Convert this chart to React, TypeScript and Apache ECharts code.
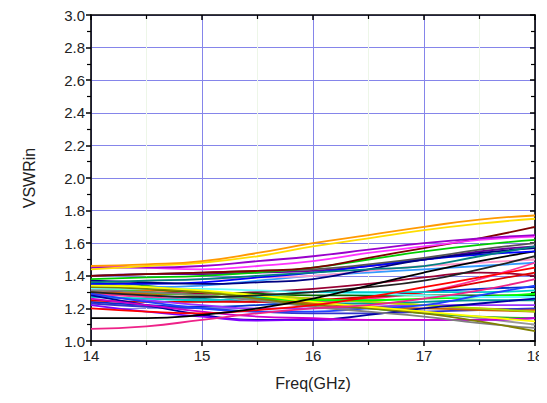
import React, { useEffect, useRef } from "react";
import * as echarts from "echarts";

const freqs = [14, 14.5, 15, 15.5, 16, 16.5, 17, 17.5, 18];
const yTicks = [1.0, 1.2, 1.4, 1.6, 1.8, 2.0, 2.2, 2.4, 2.6, 2.8, 3.0];

const colors = [
  "#999999", "#ff6600", "#009999", "#0033cc", "#660099", "#33aa33", "#990033", "#3399ff",
  "#ff3399", "#dd0000", "#006600", "#3333cc", "#9933ff", "#ff99cc", "#cc6600", "#aadd00",
  "#00ff00", "#66ffff", "#00cccc", "#1e40ff", "#0000a0", "#8000ff", "#cc00cc", "#808080",
  "#808000", "#ffff00", "#ee2288", "#ff0000", "#222222", "#000000", "#0000ff", "#000080",
  "#008080", "#555555", "#00cc00", "#800000", "#ff33ff", "#9900cc", "#ffdd00", "#ff9900",
];

const s01 = [1.33, 1.32, 1.30, 1.27, 1.24, 1.21, 1.18, 1.14, 1.10];
const s02 = [1.32, 1.31, 1.30, 1.28, 1.26, 1.24, 1.22, 1.20, 1.19];
const s03 = [1.30, 1.28, 1.26, 1.24, 1.23, 1.23, 1.24, 1.25, 1.25];
const s04 = [1.24, 1.22, 1.21, 1.22, 1.24, 1.27, 1.30, 1.32, 1.33];
const s05 = [1.40, 1.41, 1.41, 1.42, 1.43, 1.46, 1.50, 1.55, 1.58];
const s06 = [1.37, 1.34, 1.30, 1.27, 1.24, 1.20, 1.17, 1.15, 1.14];
const s07 = [1.31, 1.30, 1.29, 1.30, 1.32, 1.35, 1.39, 1.42, 1.40];
const s08 = [1.34, 1.33, 1.34, 1.37, 1.40, 1.42, 1.44, 1.46, 1.48];
const s09 = [1.29, 1.27, 1.25, 1.24, 1.24, 1.26, 1.30, 1.38, 1.48];
const s10 = [1.25, 1.24, 1.24, 1.24, 1.25, 1.27, 1.30, 1.36, 1.42];
const s11 = [1.36, 1.32, 1.30, 1.29, 1.28, 1.28, 1.28, 1.28, 1.28];
const s12 = [1.23, 1.21, 1.20, 1.18, 1.17, 1.17, 1.18, 1.19, 1.20];
const s13 = [1.28, 1.25, 1.22, 1.20, 1.20, 1.21, 1.22, 1.22, 1.22];
const s14 = [1.36, 1.37, 1.38, 1.39, 1.40, 1.43, 1.46, 1.48, 1.50];
const s15 = [1.30, 1.29, 1.28, 1.25, 1.23, 1.21, 1.20, 1.19, 1.18];
const s16 = [1.35, 1.33, 1.30, 1.28, 1.26, 1.24, 1.22, 1.20, 1.18];
const s17 = [1.33, 1.30, 1.28, 1.26, 1.25, 1.25, 1.26, 1.27, 1.29];
const s18 = [1.32, 1.32, 1.32, 1.31, 1.30, 1.29, 1.28, 1.27, 1.27];
const s19 = [1.27, 1.26, 1.25, 1.27, 1.30, 1.30, 1.30, 1.30, 1.31];
const s20 = [1.29, 1.24, 1.20, 1.18, 1.18, 1.20, 1.22, 1.28, 1.34];
const s21 = [1.28, 1.22, 1.16, 1.13, 1.13, 1.16, 1.20, 1.23, 1.26];
const s22 = [1.22, 1.18, 1.15, 1.125, 1.13, 1.13, 1.13, 1.13, 1.14];
const s23 = [1.26, 1.22, 1.18, 1.15, 1.14, 1.13, 1.13, 1.13, 1.14];
const s24 = [1.31, 1.30, 1.28, 1.25, 1.21, 1.18, 1.15, 1.11, 1.08];
const s25 = [1.33, 1.32, 1.30, 1.26, 1.22, 1.20, 1.17, 1.12, 1.06];
const s26 = [1.34, 1.33, 1.31, 1.28, 1.24, 1.21, 1.18, 1.15, 1.12];
const s27 = [1.075, 1.09, 1.13, 1.17, 1.20, 1.22, 1.26, 1.31, 1.38];
const s28 = [1.20, 1.18, 1.17, 1.19, 1.22, 1.27, 1.33, 1.39, 1.45];
const s29 = [1.30, 1.28, 1.27, 1.28, 1.30, 1.33, 1.37, 1.44, 1.52];
const s30 = [1.14, 1.14, 1.16, 1.20, 1.26, 1.34, 1.42, 1.49, 1.55];
const s31 = [1.35, 1.35, 1.36, 1.39, 1.42, 1.46, 1.50, 1.53, 1.55];
const s32 = [1.37, 1.36, 1.35, 1.36, 1.38, 1.44, 1.50, 1.54, 1.57];
const s33 = [1.36, 1.37, 1.38, 1.40, 1.42, 1.44, 1.46, 1.52, 1.58];
const s34 = [1.40, 1.41, 1.42, 1.43, 1.44, 1.47, 1.51, 1.56, 1.60];
const s35 = [1.38, 1.39, 1.40, 1.42, 1.45, 1.50, 1.55, 1.59, 1.62];
const s36 = [1.40, 1.41, 1.42, 1.43, 1.45, 1.51, 1.57, 1.63, 1.70];
const s37 = [1.46, 1.45, 1.44, 1.46, 1.49, 1.54, 1.58, 1.62, 1.64];
const s38 = [1.45, 1.45, 1.46, 1.49, 1.52, 1.56, 1.60, 1.63, 1.65];
const s39 = [1.44, 1.46, 1.48, 1.52, 1.58, 1.63, 1.68, 1.72, 1.75];
const s40 = [1.46, 1.47, 1.49, 1.54, 1.60, 1.65, 1.70, 1.745, 1.77];

const allSeries = [
  s01, s02, s03, s04, s05, s06, s07, s08, s09, s10, s11, s12, s13, s14, s15, s16, s17, s18, s19, s20,
  s21, s22, s23, s24, s25, s26, s27, s28, s29, s30, s31, s32, s33, s34, s35, s36, s37, s38, s39, s40,
];

const FONT = "'Liberation Sans', Arial, sans-serif";

export default function App() {
  const ref = useRef<HTMLDivElement>(null);
  useEffect(() => {
    if (!ref.current) return;
    const chart = echarts.init(ref.current, null, { renderer: "svg" });
    const axisLine = { show: true, lineStyle: { color: "#000", width: 1.6 } };
    chart.setOption({
      animation: false,
      backgroundColor: "#fff",
      grid: { left: 91, right: 12, top: 15, bottom: 62 },
      xAxis: [
        {
          type: "value", min: 14, max: 18, interval: 1, position: "bottom",
          name: "Freq(GHz)", nameLocation: "middle", nameGap: 34,
          nameTextStyle: { fontFamily: FONT, fontSize: 16, color: "#222" },
          axisLine,
          axisTick: { show: true, inside: false, length: 5, lineStyle: { color: "#000", width: 1.5 } },
          minorTick: { show: true, splitNumber: 2, length: 4, lineStyle: { color: "#000", width: 1.2 } },
          axisLabel: { fontFamily: FONT, fontSize: 15, color: "#222", margin: 7 },
          splitLine: { show: true, lineStyle: { color: "#8585ea", width: 1 } },
          minorSplitLine: { show: true, lineStyle: { color: "#edf6e8", width: 1 } },
        },
        {
          type: "value", min: 14, max: 18, interval: 1, position: "top",
          axisLine,
          axisTick: { show: true, inside: true, length: 5, lineStyle: { color: "#000", width: 1.5 } },
          minorTick: { show: true, splitNumber: 2, length: 4, lineStyle: { color: "#000", width: 1.2 } },
          axisLabel: { show: false },
          splitLine: { show: false },
        },
      ],
      yAxis: [
        {
          type: "value", min: 1, max: 3, interval: 0.2, position: "left",
          name: "VSWRin", nameLocation: "middle", nameGap: 54, nameRotate: 90,
          nameTextStyle: { fontFamily: FONT, fontSize: 16, color: "#222" },
          axisLine,
          axisTick: { show: true, inside: false, length: 5, lineStyle: { color: "#000", width: 1.5 } },
          minorTick: { show: true, splitNumber: 2, length: 4, lineStyle: { color: "#000", width: 1.2 } },
          axisLabel: {
            fontFamily: FONT, fontSize: 15, color: "#222", margin: 6,
            formatter: (v: number) => {
              const t = yTicks.find((k) => Math.abs(k - v) < 1e-6);
              return (t ?? v).toFixed(1);
            },
          },
          splitLine: { show: true, lineStyle: { color: "#8585ea", width: 1 } },
          minorSplitLine: { show: false },
        },
        {
          type: "value", min: 1, max: 3, interval: 0.2, position: "right",
          axisLine,
          axisTick: { show: true, inside: true, length: 5, lineStyle: { color: "#000", width: 1.5 } },
          minorTick: { show: true, splitNumber: 2, length: 4, lineStyle: { color: "#000", width: 1.2 } },
          axisLabel: { show: false },
          splitLine: { show: false },
        },
      ],
      series: allSeries.map((vals, i) => ({
        type: "line",
        xAxisIndex: 0,
        yAxisIndex: 0,
        smooth: true,
        symbol: "none",
        data: vals.map((v, j) => [freqs[j], v]),
        lineStyle: { color: colors[i], width: 1.8 },
        clip: true,
      })),
    });
    return () => chart.dispose();
  }, []);
  return <div ref={ref} style={{ width: 547, height: 403, margin: -8 }} />;
}
